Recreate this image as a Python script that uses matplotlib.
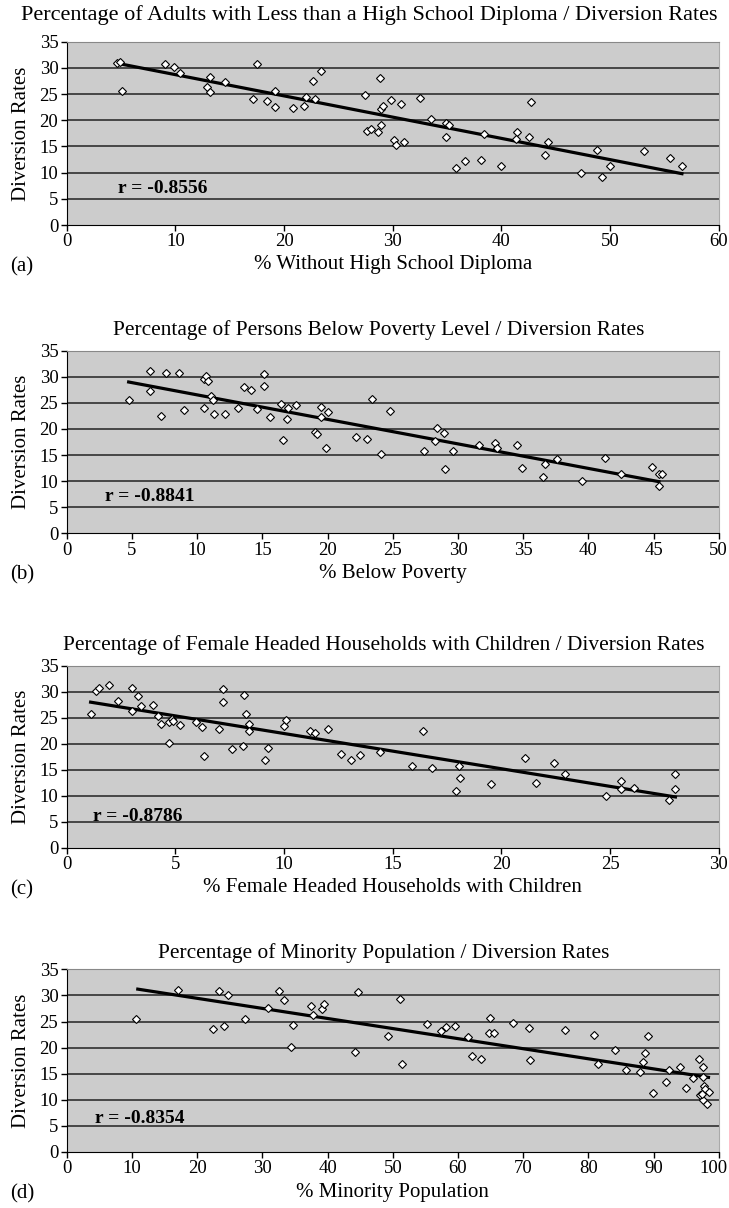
import matplotlib
matplotlib.use("Agg")
import matplotlib.pyplot as plt
import matplotlib.transforms as mtransforms
import numpy as np

plt.rcParams['font.family'] = ['Liberation Serif', 'DejaVu Serif']

# ---------------- data ----------------
# (a) % without high school diploma
a_x = [4.6, 4.9, 5.1, 9.0, 9.9, 10.4, 13.2, 12.9, 13.2, 14.6, 17.5, 17.1, 18.4, 19.2, 19.2,
       20.8, 21.8, 22.0, 22.8, 22.7, 23.4, 27.4, 28.8, 28.9, 29.1, 27.6, 28.0, 28.6, 28.9,
       29.8, 30.8, 32.5, 30.1, 30.3, 31.0, 33.5, 34.9, 35.2, 34.9, 35.8, 36.6, 38.1, 38.4,
       40.0, 41.4, 41.3, 42.7, 42.5, 44.3, 44.0, 47.3, 48.8, 49.2, 50.0, 53.1, 55.5, 56.6]
a_y = [30.9, 31.2, 25.6, 30.8, 30.2, 29.1, 28.2, 26.3, 25.4, 27.3, 30.7, 24.1, 23.7, 25.6, 22.5,
       22.3, 22.8, 24.5, 24.0, 27.5, 29.4, 24.8, 28.0, 22.1, 22.8, 18.0, 18.4, 17.8, 19.1,
       23.8, 23.1, 24.3, 16.3, 15.3, 15.8, 20.2, 19.5, 19.0, 16.8, 10.9, 12.3, 12.5, 17.3,
       11.3, 17.7, 16.4, 23.5, 16.8, 15.8, 13.4, 10.0, 14.3, 9.2, 11.3, 14.1, 12.8, 11.3]
a_trend_x = [4.6, 56.6]
a_trend_y = [30.9, 9.8]

# (b) % below poverty
b_x = [4.75, 6.4, 6.4, 7.2, 7.6, 8.6, 9.0, 10.5, 10.5, 10.7, 10.8, 11.1, 11.2, 11.3, 12.1,
       13.1, 13.6, 14.1, 14.6, 15.1, 15.1, 15.6, 16.4, 16.6, 16.9, 17.0, 17.6, 19.0, 19.2,
       19.5, 19.5, 19.9, 20.0, 22.2, 23.0, 23.4, 24.1, 24.8, 27.4, 28.2, 28.4, 28.9, 29.0,
       29.6, 31.6, 32.8, 33.0, 34.5, 34.9, 36.5, 36.7, 37.6, 39.5, 41.3, 42.5, 44.9, 45.4,
       45.6, 45.4]
b_y = [25.5, 31.1, 27.3, 22.5, 30.8, 30.8, 23.6, 24.1, 29.5, 30.2, 29.1, 26.4, 25.6, 22.8, 22.8,
       24.0, 28.0, 27.5, 23.8, 30.6, 28.3, 22.3, 24.8, 17.9, 22.0, 24.1, 24.6, 19.5, 19.0,
       24.3, 22.3, 16.3, 23.2, 18.5, 18.0, 25.7, 15.2, 23.5, 15.8, 17.6, 20.1, 19.2, 12.3,
       15.8, 16.9, 17.4, 16.3, 16.9, 12.5, 10.8, 13.3, 14.2, 10.0, 14.4, 11.4, 12.8, 11.4,
       11.4, 9.1]
b_trend_x = [4.75, 45.4]
b_trend_y = [29.0, 9.9]

# (c) % female headed households with children
c_x = [1.1, 1.35, 1.5, 1.95, 2.36, 3.0, 3.0, 3.27, 3.4, 3.96, 4.2, 4.35, 4.7, 4.85, 4.9,
       4.7, 5.2, 5.95, 6.24, 6.3, 7.0, 7.2, 7.2, 7.6, 8.1, 8.16, 8.24, 8.4, 8.4, 9.1, 9.25,
       10.0, 10.1, 11.2, 11.4, 12.0, 12.6, 13.1, 13.5, 14.4, 16.4, 15.9, 16.8, 18.05, 18.1,
       17.9, 19.5, 21.1, 21.6, 22.4, 22.9, 24.8, 25.5, 25.5, 26.1, 27.7, 28.0, 27.96]
c_y = [25.7, 30.1, 30.8, 31.2, 28.3, 30.8, 26.3, 29.1, 27.3, 27.5, 25.3, 23.9, 24.1, 24.7, 24.3,
       20.2, 23.6, 24.1, 23.2, 17.7, 22.8, 30.6, 28.0, 19.0, 19.5, 29.4, 25.7, 23.8, 22.5, 16.9,
       19.2, 23.4, 24.6, 22.4, 22.0, 22.8, 18.0, 16.9, 17.9, 18.5, 22.4, 15.8, 15.3, 15.8, 13.4,
       10.9, 12.3, 17.3, 12.5, 16.3, 14.2, 10.0, 12.8, 11.3, 11.5, 9.2, 14.3, 11.4]
c_trend_x = [1.1, 28.0]
c_trend_y = [28.0, 9.8]

# (d) % minority population
d_x = [10.6, 17.0, 22.5, 23.3, 24.1, 24.8, 27.3, 30.9, 32.6, 33.3, 34.4, 34.7, 37.5, 37.7,
       39.2, 39.4, 44.2, 44.7, 49.3, 51.1, 51.4, 55.3, 57.4, 58.1, 59.5, 61.5, 62.2, 63.6,
       64.9, 64.7, 65.5, 68.5, 70.9, 71.1, 76.4, 80.8, 81.5, 84.1, 85.7, 87.9, 88.4, 88.7,
       89.1, 89.9, 91.9, 92.3, 94.1, 95.0, 96.1, 97.0, 97.5, 97.6, 97.7, 97.9, 97.1, 97.6,
       98.2, 98.5, 97.4]
d_y = [25.4, 31.1, 23.6, 30.8, 24.1, 30.1, 25.5, 27.5, 30.8, 29.1, 20.2, 24.3, 28.0, 26.3,
       27.3, 28.3, 19.2, 30.6, 22.3, 29.4, 16.8, 24.6, 23.1, 23.9, 24.1, 22.0, 18.4, 17.9,
       25.6, 22.8, 22.8, 24.8, 23.8, 17.6, 23.4, 22.5, 16.8, 19.5, 15.8, 15.3, 17.3, 19.0,
       22.3, 11.3, 13.4, 15.8, 16.3, 12.3, 14.1, 17.8, 16.3, 14.4, 12.6, 12.0, 10.9, 10.0,
       9.2, 11.4, 11.2]
d_trend_x = [10.9, 98.4]
d_trend_y = [31.2, 14.3]

titles = ["Percentage of Adults with Less than a High School Diploma / Diversion Rates",
          "Percentage of Persons Below Poverty Level / Diversion Rates",
          "Percentage of Female Headed Households with Children / Diversion Rates",
          "Percentage of Minority Population / Diversion Rates"]
xlabels = ["% Without High School Diploma", "% Below Poverty",
           "% Female Headed Households with Children", "% Minority Population"]
r_texts = ["r = -0.8556", "r = -0.8841", "r = -0.8786", "r = -0.8354"]
r_pos = [(4.7, 6.9), (2.9, 7.0), (1.2, 6.0), (4.3, 6.5)]
panel_tags = ["(a)", "(b)", "(c)", "(d)"]
x_max = [60, 50, 30, 100]
x_step = [10, 5, 5, 10]
y_ticks = [0, 5, 10, 15, 20, 25, 30, 35]

xs = [a_x, b_x, c_x, d_x]
ys = [a_y, b_y, c_y, d_y]
txs = [a_trend_x, b_trend_x, c_trend_x, d_trend_x]
tys = [a_trend_y, b_trend_y, c_trend_y, d_trend_y]

# ---------------- layout (pixels) ----------------
W, H = 729, 1208
fig = plt.figure(figsize=(W / 100, H / 100), dpi=100)
left_px, right_px = 66.7, 718.9
tops = [41.7, 350.7, 665.7, 969.3]
bottoms = [225.0, 533.3, 848.0, 1152.0]
title_y = [15, 330, 645, 953]
title_x = [369, 379, 384, 384]
title_size = [16.0, 15.4, 15.4, 15.4]

for i in range(4):
    ax = fig.add_axes([left_px / W, 1 - bottoms[i] / H,
                       (right_px - left_px) / W, (bottoms[i] - tops[i]) / H])
    ax.set_facecolor('#cccccc')
    ax.set_xlim(0, x_max[i])
    ax.set_ylim(0, 35)
    ax.set_xticks(np.arange(0, x_max[i] + 0.1, x_step[i]))
    ax.set_yticks(y_ticks)
    ax.tick_params(direction='out', length=4, width=1, labelsize=13.5, pad=2)
    for yv in y_ticks[1:-1]:
        ax.axhline(yv, color='#222222', lw=1.1, zorder=1)
    ax.spines['left'].set_color('black')
    ax.spines['bottom'].set_color('black')
    ax.spines['top'].set_color('#888888')
    ax.spines['right'].set_color('#aaaaaa')
    ax.plot(txs[i], tys[i], color='black', lw=2.3, zorder=2)
    ax.plot(xs[i], ys[i], linestyle='none', marker='D', markersize=3.8,
            markerfacecolor='white', markeredgecolor='black', markeredgewidth=0.8, zorder=3)
    ax.text(r_pos[i][0], r_pos[i][1], r_texts[i], fontsize=14, fontweight='bold',
            ha='left', va='center', zorder=4)
    # keep the last x tick label inside the figure
    fig.canvas.draw()
    last = ax.get_xticklabels()[-1]
    bb = last.get_window_extent()
    overflow = bb.x1 - (W - 1)
    if overflow > 0:
        last.set_transform(last.get_transform() +
                           mtransforms.ScaledTranslation(-overflow / 100, 0, fig.dpi_scale_trans))
    # labels
    fig.text(title_x[i] / W, 1 - title_y[i] / H, titles[i], fontsize=title_size[i],
             ha='center', va='center')
    fig.text(22 / W, 1 - (tops[i] + bottoms[i]) / 2 / H, "Diversion Rates",
             fontsize=15, rotation=90, ha='center', va='center')
    fig.text((left_px + right_px) / 2 / W, 1 - (bottoms[i] + 40) / H, xlabels[i],
             fontsize=15, ha='center', va='center')
    fig.text(22 / W, 1 - (bottoms[i] + 42) / H, panel_tags[i],
             fontsize=15, ha='center', va='center')

fig.savefig("out.png", dpi=100, facecolor='white')
